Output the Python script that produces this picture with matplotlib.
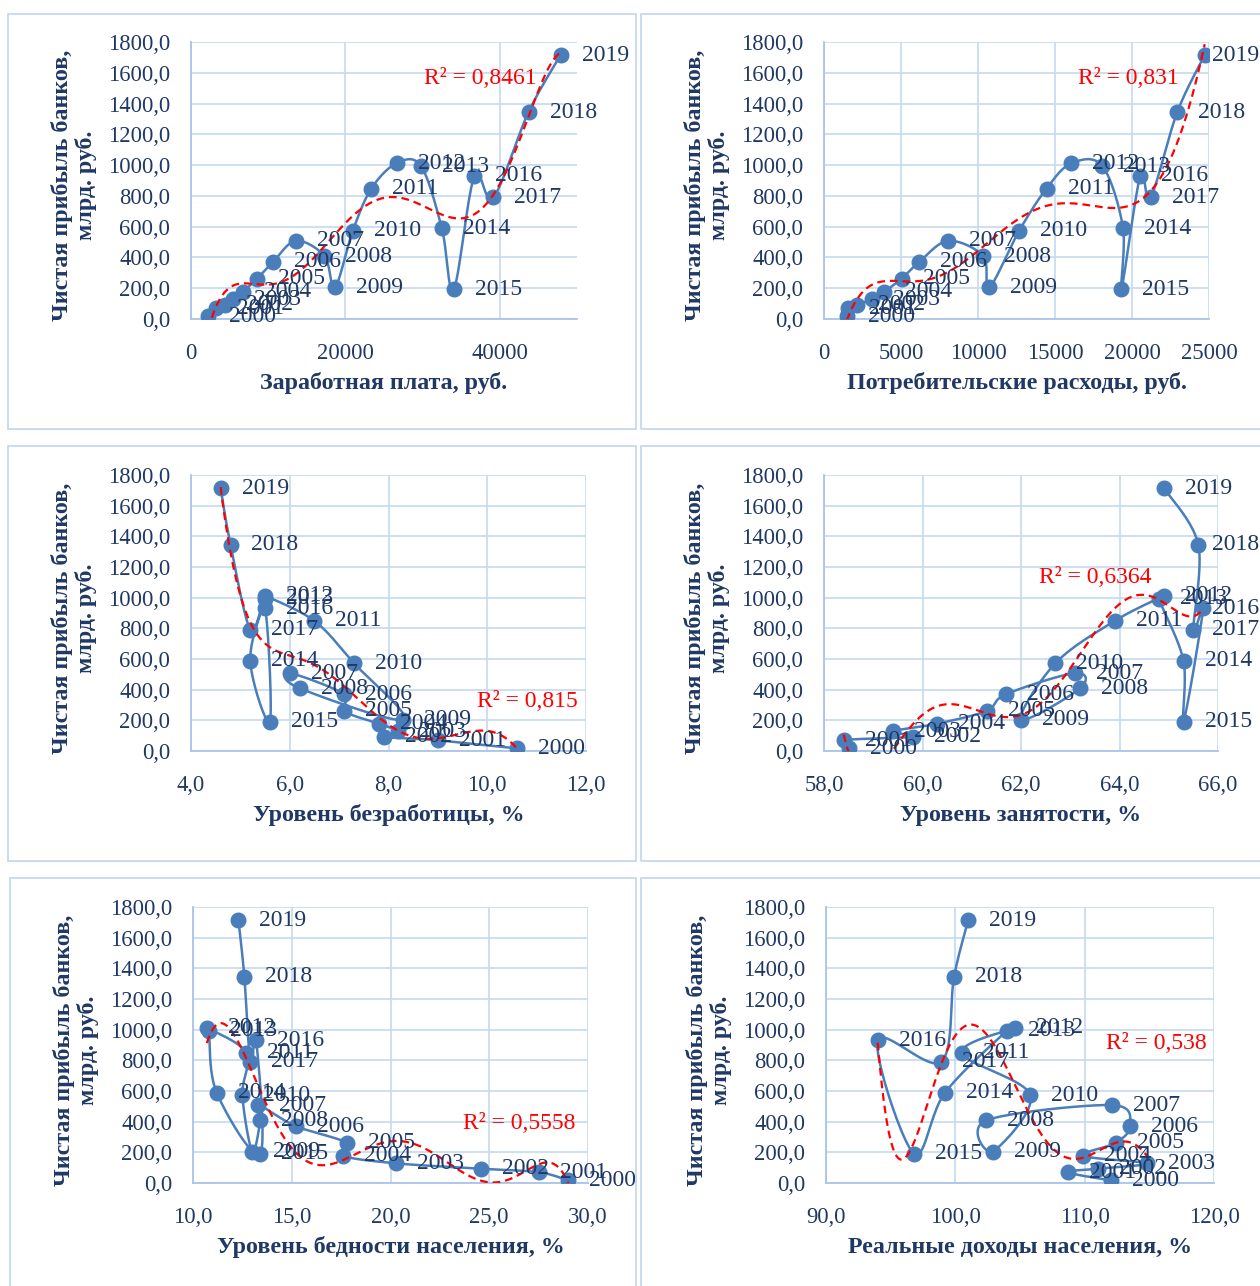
import numpy as np
import matplotlib
matplotlib.use("Agg")
import matplotlib.pyplot as plt
from matplotlib.patches import Rectangle

plt.rcParams['font.family'] = ['Liberation Serif', 'DejaVu Serif']

# Данные: годы и чистая прибыль банков, млрд руб.
years = list(range(2000, 2020))
profit = [17, 70, 93, 128, 178, 262, 371, 508, 409, 205,
          573, 848, 1012, 994, 589, 192, 930, 790, 1345, 1715]

# Факторы
wage = [2223, 3240, 4360, 5499, 6740, 8555, 10634, 13593, 17290, 18638,
        20952, 23369, 26629, 29792, 32495, 34030, 36709, 39167, 43724, 47867]
consumption = [1470, 1580, 2160, 3090, 3910, 5040, 6185, 8070, 10340, 10730,
               12670, 14450, 16070, 18080, 19420, 19310, 20540, 21210, 22940, 24720]
unemployment = [10.6, 9.0, 7.9, 8.2, 7.8, 7.1, 7.1, 6.0, 6.2, 8.3,
                7.3, 6.5, 5.5, 5.5, 5.2, 5.6, 5.5, 5.2, 4.8, 4.6]
employment = [58.5, 58.4, 59.8, 59.4, 60.3, 61.3, 61.7, 63.1, 63.2, 62.0,
              62.7, 63.9, 64.9, 64.8, 65.3, 65.3, 65.7, 65.5, 65.6, 64.9]
poverty = [29.0, 27.5, 24.6, 20.3, 17.6, 17.8, 15.2, 13.3, 13.4, 13.0,
           12.5, 12.7, 10.7, 10.8, 11.2, 13.4, 13.2, 12.9, 12.6, 12.3]
real_income = [112.0, 108.7, 111.0, 114.8, 109.9, 112.4, 113.5, 112.1, 102.4, 102.9,
               105.8, 100.5, 104.6, 104.0, 99.2, 96.8, 94.0, 98.9, 99.9, 101.0]

x_labels = ["Заработная плата, руб.", "Потребительские расходы, руб.",
            "Уровень безработицы, %", "Уровень занятости, %",
            "Уровень бедности населения, %", "Реальные доходы населения, %"]
r2_texts = ["R² = 0,8461", "R² = 0,831", "R² = 0,815",
            "R² = 0,6364", "R² = 0,5558", "R² = 0,538"]
y_label = "Чистая прибыль банков,\nмлрд. руб."

W, H = 1260, 1286
fig = plt.figure(figsize=(W / 100, H / 100), dpi=100)

navy = '#1f3864'
blue = '#4a7ebb'
grid_c = '#c6d9f0'
box_c = '#c6d9f1'

# рамки панелей (пиксели: x0, y0, x1, y1)
boxes = [(8, 14, 636, 429), (641, 14, 1262, 429),
         (8, 446, 636, 861), (641, 446, 1262, 861),
         (10, 878, 636, 1290), (641, 878, 1262, 1290)]
for x0, y0, x1, y1 in boxes:
    fig.patches.append(Rectangle((x0 / W, 1 - y1 / H), (x1 - x0) / W, (y1 - y0) / H,
                                 transform=fig.transFigure, fill=False,
                                 edgecolor=box_c, lw=1.3))

# области построения (пиксели: left, top, right, bottom)
rects = [(191, 42, 577, 319), (824, 42, 1209, 319),
         (191, 475, 586, 751), (824, 475, 1218, 751),
         (193, 907, 588, 1183), (826, 907, 1214, 1183)]
xlims = [(0, 50000), (0, 25000), (4, 12), (58, 66), (10, 30), (90, 120)]
xticks = [[0, 20000, 40000], [0, 5000, 10000, 15000, 20000, 25000],
          [4, 6, 8, 10, 12], [58, 60, 62, 64, 66], [10, 15, 20, 25, 30],
          [90, 100, 110, 120]]
xfmt = [lambda v: f"{v:.0f}"] * 2 + [lambda v: f"{v:.1f}".replace('.', ',')] * 4
r2_pos = [(0.749, 0.870), (0.790, 0.870), (0.851, 0.178),
          (0.688, 0.627), (0.825, 0.217), (0.851, 0.507)]
series = [wage, consumption, unemployment, employment, poverty, real_income]


def smooth_path(x, y, xlim, ylim, w, h, n=25):
    # сглаживание в духе Excel (Catmull-Rom через кривые Безье) в пикселях
    px = (np.asarray(x, float) - xlim[0]) / (xlim[1] - xlim[0]) * w
    py = (np.asarray(y, float) - ylim[0]) / (ylim[1] - ylim[0]) * h
    P = np.column_stack([px, py])
    Pe = np.vstack([P[0], P, P[-1]])
    t = np.linspace(0, 1, n)[:, None]
    out = []
    for i in range(len(P) - 1):
        p0, p1, p2, p3 = Pe[i], Pe[i + 1], Pe[i + 2], Pe[i + 3]
        c1 = p1 + (p2 - p0) / 6
        c2 = p2 - (p3 - p1) / 6
        seg = (1 - t) ** 3 * p1 + 3 * (1 - t) ** 2 * t * c1 + 3 * (1 - t) * t ** 2 * c2 + t ** 3 * p2
        out.append(seg if i == 0 else seg[1:])
    out = np.vstack(out)
    sx = out[:, 0] / w * (xlim[1] - xlim[0]) + xlim[0]
    sy = out[:, 1] / h * (ylim[1] - ylim[0]) + ylim[0]
    return sx, sy


ylim = (0, 1800)
year_anns = []
for k in range(6):
    l, t, r, b = rects[k]
    ax = fig.add_axes([l / W, 1 - b / H, (r - l) / W, (b - t) / H])
    xs = np.array(series[k], float)
    ys = np.array(profit, float)

    sx, sy = smooth_path(xs, ys, xlims[k], ylim, r - l, b - t)
    ax.plot(sx, sy, color=blue, lw=1.8, zorder=3)
    ax.plot(xs, ys, 'o', color=blue, ms=10.5, zorder=4)

    poly = np.polynomial.Polynomial.fit(xs, ys, 6)
    tx = np.linspace(xs.min(), xs.max(), 400)
    ax.plot(tx, poly(tx), color='red', lw=1.6, ls=(0, (3.5, 2.2)), zorder=5)

    for xv, yv, yr in zip(xs, ys, years):
        a = ax.annotate(str(yr), (xv, yv), xytext=(21, 0), textcoords='offset pixels',
                        ha='left', va='center', fontsize=17, color=navy, zorder=6,
                        annotation_clip=False)
        year_anns.append(a)

    ax.text(r2_pos[k][0], r2_pos[k][1], r2_texts[k], transform=ax.transAxes,
            ha='center', va='center', fontsize=17, color='red', zorder=7)

    ax.set_xlim(*xlims[k])
    ax.set_ylim(*ylim)
    ax.set_xticks(xticks[k])
    ax.set_xticklabels([xfmt[k](v) for v in xticks[k]])
    yt = np.arange(0, 1801, 200)
    ax.set_yticks(yt)
    ax.set_yticklabels([f"{v:.1f}".replace('.', ',') for v in yt])
    ax.tick_params(length=0, labelsize=16.3, labelcolor=navy)
    ax.tick_params(axis='y', pad=15)
    ax.tick_params(axis='x', pad=17)
    ax.grid(True, color=grid_c, lw=1.2)
    ax.set_axisbelow(True)
    for s in ['top', 'right']:
        ax.spines[s].set_visible(False)
    for s in ['left', 'bottom']:
        ax.spines[s].set_color('#a9c4e8')
        ax.spines[s].set_linewidth(1.3)
    ax.set_facecolor('none')

    fig.text((l + r) / 2 / W, 1 - (b + 64) / H, x_labels[k], ha='center', va='center',
             fontsize=17.3, fontweight='bold', color=navy)
    fig.text((l - 117) / W, 1 - ((t + b) / 2 + 5) / H, y_label, ha='center', va='center',
             rotation=90, multialignment='center', fontsize=17.3, fontweight='bold',
             color=navy, linespacing=1.12)

# подписи годов, вылезающие за правый край, сдвигаем внутрь (как в Excel)
renderer = fig.canvas.get_renderer()
for a in year_anns:
    bb = a.get_window_extent(renderer)
    over = bb.x1 - (W - 1)
    if over > 0:
        a.xyann = (21 - over, 0)

fig.savefig("out.png", dpi=100)
